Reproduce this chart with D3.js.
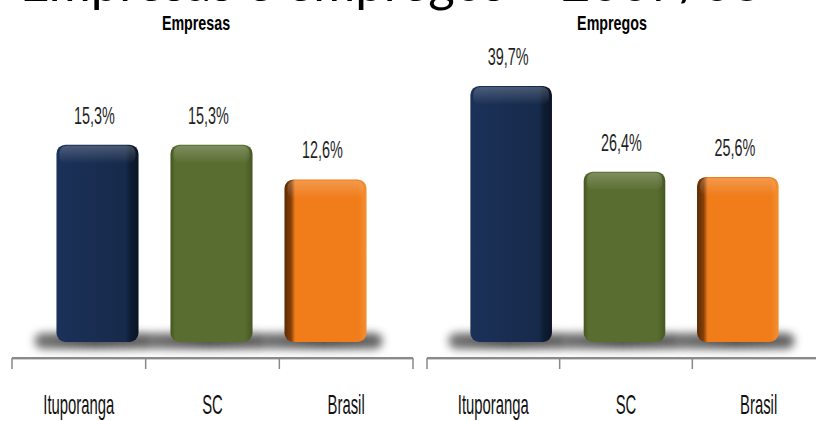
<!DOCTYPE html>
<html><head><meta charset="utf-8">
<script src="https://cdn.jsdelivr.net/npm/d3@7"></script>
<style>html,body{margin:0;padding:0;background:#fff;overflow:hidden}</style>
</head><body>
<svg id="c" width="816" height="421"></svg>
<script>
const title = "Empresas e empregos – 2007/08";
const categories = ["Ituporanga", "SC", "Brasil"];
const panelTitles = ["Empresas", "Empregos"];
const empresasValues = [15.3, 15.3, 12.6];
const empregosValues = [39.7, 26.4, 25.6];
const valueLabelsEmpresas = ["15,3%", "15,3%", "12,6%"];
const valueLabelsEmpregos = ["39,7%", "26,4%", "25,6%"];
const yMax = [20, 40];
const colors = ["#162a4b", "#5a6d30", "#f07c1a"];

const svg = d3.select("#c");
const defs = svg.append("defs");
defs.append("filter").attr("id","blur").attr("x","-30%").attr("y","-100%").attr("width","160%").attr("height","300%")
  .append("feGaussianBlur").attr("stdDeviation", 4);

const gradStops = [
  [[0,"#1b3158"],[0.84,"#162a4b"],[0.9,"#0e1d34"],[1,"#0a1426"]],
  [[0,"#44561f"],[0.06,"#5a6d30"],[0.9,"#5a6d30"],[1,"#465823"]],
  [[0,"#5e2a00"],[0.08,"#84400a"],[0.13,"#f07c1a"],[0.9,"#f07c1a"],[1,"#f39030"]]
];
gradStops.forEach((st,i)=>{
  const g = defs.append("linearGradient").attr("id","g"+i).attr("x1",0).attr("x2",1).attr("y1",0).attr("y2",0);
  st.forEach(s=>g.append("stop").attr("offset",s[0]).attr("stop-color",s[1]));
});
const hl = defs.append("linearGradient").attr("id","hl").attr("x1",0).attr("x2",0).attr("y1",0).attr("y2",1);
hl.append("stop").attr("offset",0).attr("stop-color","#fff").attr("stop-opacity",0.22);
hl.append("stop").attr("offset",1).attr("stop-color","#fff").attr("stop-opacity",0);
const shg = defs.append("linearGradient").attr("id","shg").attr("x1",0).attr("x2",1).attr("y1",0).attr("y2",0);
shg.append("stop").attr("offset",0).attr("stop-color","#555");
shg.append("stop").attr("offset",0.5).attr("stop-color","#222");
shg.append("stop").attr("offset",1).attr("stop-color","#444");

// main title (cut off at top, as in the reference)
svg.append("text").attr("x", 20).attr("y", 1).attr("text-anchor","start")
  .attr("font-family","Lato, 'Open Sans', sans-serif").attr("font-size", 51).attr("fill","#000")
  .text(title);

const panels = [
  {values: empresasValues, labels: valueLabelsEmpresas, barRange:[40.5,382.5], axisRange:[12,413], titleX:196},
  {values: empregosValues, labels: valueLabelsEmpregos, barRange:[454.5,794.5], axisRange:[427,825], titleX:612}
];

const baseY = 342, topY = 84, axisY = 358;

function condensedText(g, x, y, txt, size, sx, weight, fill){
  g.append("text").attr("transform",`translate(${x},${y}) scale(${sx},1)`)
    .attr("text-anchor","middle").attr("font-family","'Liberation Sans', Arial, sans-serif")
    .attr("font-size", size).attr("font-weight", weight||"normal").attr("fill", fill||"#1a1a1a").text(txt);
}

panels.forEach((p, pi) => {
  const g = svg.append("g");
  const x = d3.scaleBand().domain(categories).range(p.barRange).paddingInner(0.28).paddingOuter(0.14);
  const xa = d3.scaleBand().domain(categories).range(p.axisRange).padding(0);
  const y = d3.scaleLinear().domain([0, yMax[pi]]).range([baseY, topY]);

  condensedText(g, p.titleX, 30, panelTitles[pi], 21, 0.68, "bold", "#000");

  // shadows
  g.selectAll("rect.sh").data(p.values).join("rect").attr("class","sh")
    .attr("x",(d,i)=>x(categories[i]) - 22).attr("width", x.bandwidth()+38)
    .attr("y", baseY - 9).attr("height", 16).attr("rx", 8)
    .attr("fill","url(#shg)").attr("opacity",0.8).attr("filter","url(#blur)");

  // bars
  g.selectAll("rect.bar").data(p.values).join("rect").attr("class","bar")
    .attr("x",(d,i)=>x(categories[i])).attr("width", x.bandwidth())
    .attr("y", d=>y(d)).attr("height", d=>baseY - y(d)).attr("rx", 9)
    .attr("fill",(d,i)=>`url(#g${i})`);
  g.selectAll("rect.hl").data(p.values).join("rect").attr("class","hl")
    .attr("x",(d,i)=>x(categories[i])+3).attr("width", x.bandwidth()-6)
    .attr("y", d=>y(d)+1).attr("height", 18).attr("rx", 7)
    .attr("fill","url(#hl)");

  // value labels
  p.values.forEach((v,i)=>{
    condensedText(g, x(categories[i]) + x.bandwidth()/2 - 3, y(v) - 21, p.labels[i], 24, 0.6, "normal", "#1f1f1f");
  });

  // axis
  const r = xa.range();
  g.append("line").attr("x1", r[0]).attr("x2", r[1]).attr("y1", axisY).attr("y2", axisY)
    .attr("stroke","#8a8a8a").attr("stroke-width",2);
  g.append("line").attr("x1", r[0]).attr("x2", r[1]).attr("y1", axisY+1.5).attr("y2", axisY+1.5)
    .attr("stroke","#d0d0d0").attr("stroke-width",1);
  const ticks = categories.map(c=>xa(c)).concat([xa(categories[categories.length-1]) + xa.bandwidth()]);
  g.selectAll("line.tk").data(ticks).join("line").attr("class","tk")
    .attr("x1",d=>d).attr("x2",d=>d).attr("y1",axisY).attr("y2",axisY+11)
    .attr("stroke","#8a8a8a").attr("stroke-width",1.5);
  categories.forEach(c=>{
    condensedText(g, xa(c) + xa.bandwidth()/2, 414, c, 27, 0.55, "normal", "#111");
  });
});
</script>
</body></html>
